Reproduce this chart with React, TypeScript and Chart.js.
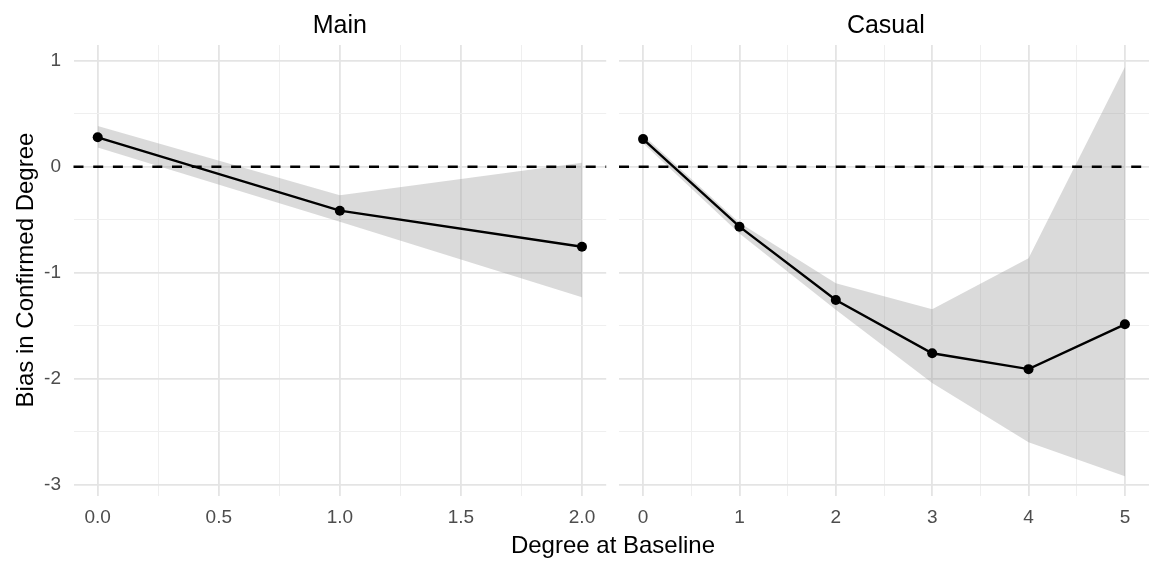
import React, { useEffect, useRef } from "react";
import { Chart, registerables } from "chart.js";

Chart.register(...registerables);

// ---------- data ----------
const mainX = [0, 1, 2];
const mainEst = [0.277, -0.415, -0.755];
const mainUpper = [0.384, -0.27, 0.038];
const mainLower = [0.18, -0.52, -1.232];

const casualX = [0, 1, 2, 3, 4, 5];
const casualEst = [0.26, -0.566, -1.258, -1.76, -1.91, -1.487];
const casualUpper = [0.3, -0.528, -1.1, -1.345, -0.865, 0.94];
const casualLower = [0.22, -0.63, -1.35, -2.04, -2.6, -2.92];

const yTicks = [-3, -2.5, -2, -1.5, -1, -0.5, 0, 0.5, 1];
const mainXTicks = [0, 0.25, 0.5, 0.75, 1, 1.25, 1.5, 1.75, 2];
const casualXTicks = [0, 0.5, 1, 1.5, 2, 2.5, 3, 3.5, 4, 4.5, 5];

const refLineValue = 0;
const yMin = -3.107;
const yMax = 1.148;

const panelTitles = ["Main", "Casual"];
const xTitle = "Degree at Baseline";
const yTitle = "Bias in Confirmed Degree";

// ---------- styling ----------
const FONT = "'Liberation Sans', Arial, Helvetica, sans-serif";
const BAND = "rgba(150,150,150,0.35)";
const MAJOR_GRID = "#e4e4e4";
const MINOR_GRID = "#efefef";

const zeroLinePlugin = {
  id: "zeroLine",
  afterDatasetsDraw(chart: any) {
    const { ctx, chartArea, scales } = chart;
    const py = scales.y.getPixelForValue(refLineValue);
    ctx.save();
    ctx.beginPath();
    ctx.setLineDash([10, 9.7]);
    ctx.lineWidth = 2.4;
    ctx.strokeStyle = "#000";
    ctx.moveTo(chartArea.left, py);
    ctx.lineTo(chartArea.right, py);
    ctx.stroke();
    ctx.restore();
  },
};

function makeConfig(p: any) {
  const pts = (ys: number[]) => p.xs.map((x: number, i: number) => ({ x, y: ys[i] }));
  return {
    type: "line",
    data: {
      datasets: [
        {
          data: pts(p.est),
          borderColor: "#000",
          borderWidth: 2.4,
          pointRadius: 5,
          pointBackgroundColor: "#000",
          pointBorderWidth: 0,
          fill: false,
          tension: 0,
        },
        {
          data: pts(p.upper),
          borderWidth: 0,
          borderColor: "rgba(0,0,0,0)",
          pointRadius: 0,
          backgroundColor: BAND,
          fill: "+1",
          tension: 0,
        },
        {
          data: pts(p.lower),
          borderWidth: 0,
          borderColor: "rgba(0,0,0,0)",
          pointRadius: 0,
          fill: false,
          tension: 0,
        },
      ],
    },
    options: {
      responsive: false,
      animation: false,
      events: [],
      layout: { padding: { left: p.padLeft, right: p.padRight, top: 45, bottom: 0 } },
      plugins: { legend: { display: false }, tooltip: { enabled: false } },
      scales: {
        x: {
          type: "linear",
          min: p.xMin,
          max: p.xMax,
          afterBuildTicks: (s: any) => {
            s.ticks = p.xTicks.map((v: number) => ({ value: v }));
          },
          afterFit: (s: any) => {
            s.height = 66;
          },
          border: { display: false },
          grid: {
            drawTicks: false,
            color: (c: any) => (c.tick && p.isMajorX(c.tick.value) ? MAJOR_GRID : MINOR_GRID),
            lineWidth: (c: any) => (c.tick && p.isMajorX(c.tick.value) ? 1.8 : 1),
          },
          ticks: {
            autoSkip: false,
            maxRotation: 0,
            padding: 10,
            color: "#4d4d4d",
            font: { family: FONT, size: 19 },
            callback: (v: number) => (p.isMajorX(v) ? p.fmtX(v) : ""),
          },
        },
        y: {
          type: "linear",
          min: yMin,
          max: yMax,
          afterBuildTicks: (s: any) => {
            s.ticks = yTicks.map((v) => ({ value: v }));
          },
          afterFit: (s: any) => {
            s.width = p.yWidth;
          },
          border: { display: false },
          grid: {
            drawTicks: false,
            color: (c: any) => (c.tick && Number.isInteger(c.tick.value) ? MAJOR_GRID : MINOR_GRID),
            lineWidth: (c: any) => (c.tick && Number.isInteger(c.tick.value) ? 1.8 : 1),
          },
          ticks: {
            display: p.showY,
            autoSkip: false,
            padding: 12.5,
            color: "#4d4d4d",
            font: { family: FONT, size: 19 },
            callback: (v: number) => (Number.isInteger(v) ? String(v) : ""),
          },
        },
      },
    },
    plugins: [zeroLinePlugin],
  };
}

function Panel(props: any) {
  const ref = useRef<HTMLCanvasElement>(null);
  useEffect(() => {
    if (!ref.current) return;
    const chart = new Chart(ref.current, makeConfig(props.cfg) as any);
    return () => chart.destroy();
  }, []);
  return (
    <canvas
      ref={ref}
      width={props.width}
      height={562}
      style={{ position: "absolute", left: props.left, top: 0, width: props.width, height: 562 }}
    />
  );
}

const mainCfg = {
  xs: mainX,
  est: mainEst,
  upper: mainUpper,
  lower: mainLower,
  xMin: -0.1,
  xMax: 2.1,
  xTicks: mainXTicks,
  isMajorX: (v: number) => Number.isInteger(Math.round(v * 1000) / 500),
  fmtX: (v: number) => v.toFixed(1),
  showY: true,
  padLeft: 0,
  padRight: 5.8,
  yWidth: 73.5,
};

const casualCfg = {
  xs: casualX,
  est: casualEst,
  upper: casualUpper,
  lower: casualLower,
  xMin: -0.25,
  xMax: 5.25,
  xTicks: casualXTicks,
  isMajorX: (v: number) => Number.isInteger(v),
  fmtX: (v: number) => String(v),
  showY: false,
  padLeft: 7,
  padRight: 1.4,
  yWidth: 0,
};

export default function App() {
  const textBase: any = {
    position: "absolute",
    fontFamily: FONT,
    color: "#000",
    whiteSpace: "nowrap",
    textAlign: "center",
    lineHeight: "30px",
    height: 30,
  };
  return (
    <div
      style={{
        position: "fixed",
        left: 0,
        top: 0,
        width: 1154,
        height: 562,
        background: "#fff",
        overflow: "hidden",
      }}
    >
      <Panel cfg={mainCfg} left={0} width={612} />
      <Panel cfg={casualCfg} left={612} width={542} />
      <div style={{ ...textBase, left: 73.5, width: 532.7, top: 9.3, fontSize: 25 }}>{panelTitles[0]}</div>
      <div style={{ ...textBase, left: 619, width: 533.6, top: 9.3, fontSize: 25 }}>{panelTitles[1]}</div>
      <div style={{ ...textBase, left: 313, width: 600, top: 530.2, fontSize: 24 }}>{xTitle}</div>
      <div
        style={{
          ...textBase,
          left: 25 - 200,
          width: 400,
          top: 270 - 15,
          fontSize: 24,
          transform: "rotate(-90deg)",
        }}
      >
        {yTitle}
      </div>
    </div>
  );
}
